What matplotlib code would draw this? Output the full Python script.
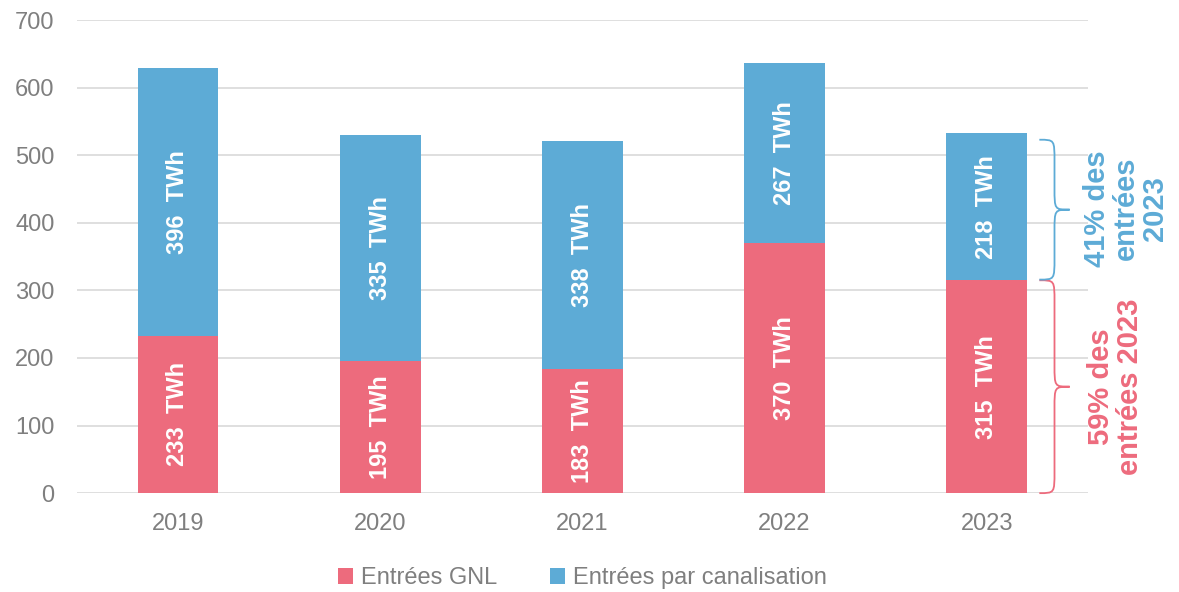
import numpy as np
import matplotlib
matplotlib.use("Agg")
import matplotlib.pyplot as plt
from matplotlib.path import Path
from matplotlib.patches import PathPatch

years = ["2019", "2020", "2021", "2022", "2023"]
gnl = [233, 195, 183, 370, 315]
canalisation = [396, 335, 338, 267, 218]
series_names = ["Entrées GNL", "Entrées par canalisation"]
share_gnl = "59% des\nentrées 2023"
share_can = "41% des\nentrées\n2023"

RED = "#ED6B7D"
BLUE = "#5DABD6"
GREY = "#7F7F7F"

plt.rcParams['font.family'] = ['Liberation Sans', 'DejaVu Sans']


def brace(ax, x0, y0, y1, w, r, color):
    xm = x0 + w / 2
    ym = (y0 + y1) / 2
    verts = [
        (x0, y0), (xm, y0), (xm, y0), (xm, y0 + r),
        (xm, ym - r),
        (xm, ym), (xm, ym), (x0 + w, ym),
        (xm, ym), (xm, ym), (xm, ym + r),
        (xm, y1 - r),
        (xm, y1), (xm, y1), (x0, y1),
    ]
    codes = [Path.MOVETO, Path.CURVE4, Path.CURVE4, Path.CURVE4,
             Path.LINETO,
             Path.CURVE4, Path.CURVE4, Path.CURVE4,
             Path.CURVE4, Path.CURVE4, Path.CURVE4,
             Path.LINETO,
             Path.CURVE4, Path.CURVE4, Path.CURVE4]
    ax.add_patch(PathPatch(Path(verts, codes), fill=False, edgecolor=color,
                           lw=1.3, clip_on=False))


fig = plt.figure(figsize=(11.79, 5.92), dpi=100)
ax = fig.add_axes([0.0652, 0.167, 0.8575, 0.799])

x = np.arange(len(years))
gnl = np.array(gnl)
canalisation = np.array(canalisation)
ax.bar(x, gnl, width=0.4, color=RED, label=series_names[0], zorder=2)
ax.bar(x, canalisation, width=0.4, bottom=gnl, color=BLUE,
       label=series_names[1], zorder=2)

for i in range(len(years)):
    ax.text(x[i], gnl[i] / 2, f"{gnl[i]}  TWh", rotation=90, ha="center",
            va="center", color="white", fontsize=17, fontweight="bold")
    ax.text(x[i], gnl[i] + canalisation[i] / 2, f"{canalisation[i]}  TWh",
            rotation=90, ha="center", va="center", color="white",
            fontsize=17, fontweight="bold")

ax.set_xlim(-0.5, 4.5)
ax.set_ylim(0, 700)
ax.set_yticks(range(0, 701, 100))
ax.set_xticks(x)
ax.set_xticklabels(years)
ax.grid(axis="y", color="#D9D9D9", lw=1.2, zorder=0)
ax.set_axisbelow(True)
for s in ax.spines.values():
    s.set_visible(False)
ax.tick_params(length=0, labelsize=17, colors=GREY)
ax.tick_params(axis="x", pad=14)
ax.tick_params(axis="y", pad=16)

# braces for 2023 shares
last = len(years) - 1
bx = x[last] + 0.26
brace(ax, bx, 0, gnl[last], 0.15, 32, RED)
brace(ax, bx, gnl[last] + 1, gnl[last] + canalisation[last] - 10, 0.15, 32, BLUE)
ax.text(x[last] + 0.635, gnl[last] / 2, share_gnl, rotation=90, ha="center",
        va="center", color=RED, fontsize=21, fontweight="bold",
        linespacing=1.05, clip_on=False)
ax.text(x[last] + 0.69, 421, share_can, rotation=90, ha="center",
        va="center", color=BLUE, fontsize=21, fontweight="bold",
        linespacing=1.05, clip_on=False)

ax.legend(loc="upper center", bbox_to_anchor=(0.5, -0.112), ncol=2,
          frameon=False, fontsize=17, handlelength=0.65, handleheight=0.65,
          handletextpad=0.35, columnspacing=2.2, labelcolor=GREY)

fig.savefig("out.png", dpi=100)
